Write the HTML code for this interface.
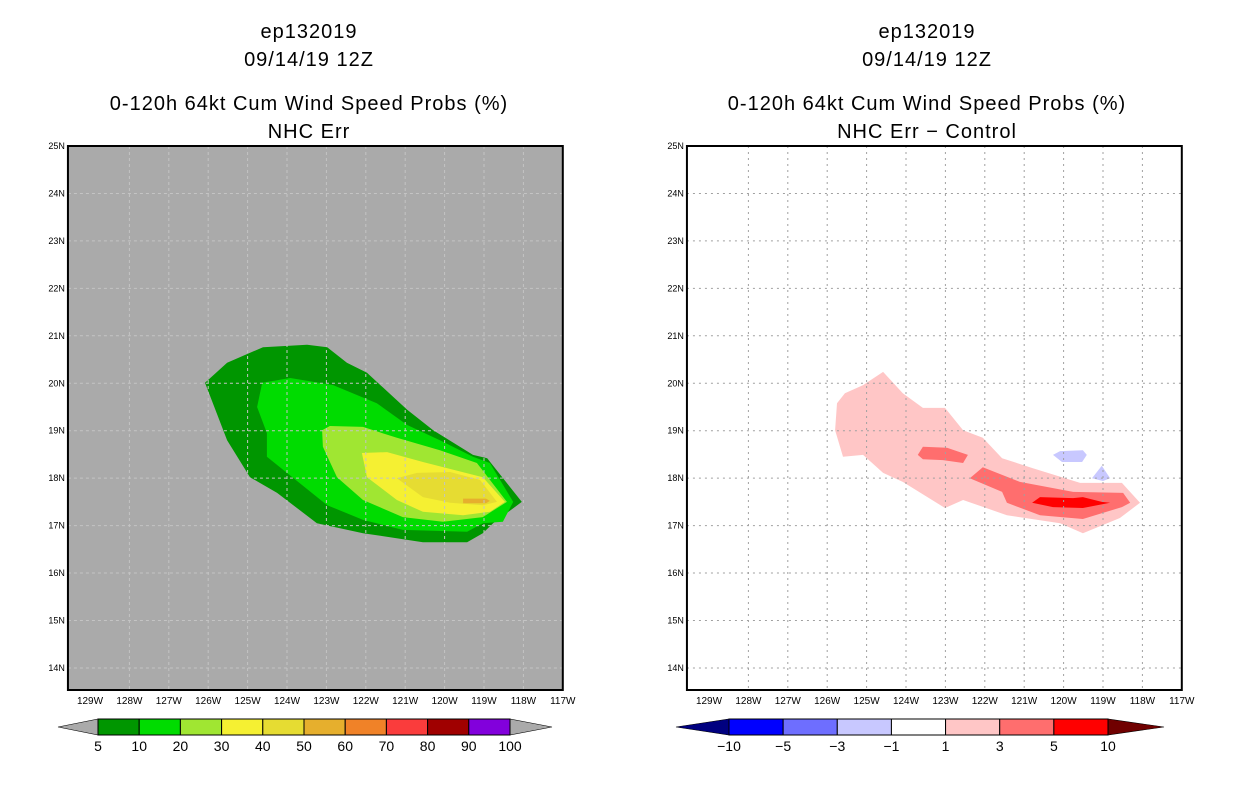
<!DOCTYPE html>
<html><head><meta charset="utf-8"><style>
body{margin:0;background:#fff;width:1236px;height:800px;overflow:hidden}
svg{display:block;font-family:"Liberation Sans",sans-serif}
</style></head><body>
<svg id="s" width="1236" height="800"></svg>
<script>
// axis data
const lonTicks=[129,128,127,126,125,124,123,122,121,120,119,118,117];
const latTicks=[25,24,23,22,21,20,19,18,17,16,15,14];
const leftLevels=["5","10","20","30","40","50","60","70","80","90","100"];
const leftColors=["#009600","#00dc00","#a0e632","#f5f032","#e6dc32","#e6af2d","#f08228","#fa3c3c","#a00000","#8200dc"];
const rightLevels=["\u221210","\u22125","\u22123","\u22121","1","3","5","10"];
const rightColors=["#0000ff","#6e6eff","#c8c8ff","#ffffff","#ffc6c6","#ff6e6e","#ff0000"];
// contour polygons (lon W, lat N)
const g5Lon=[126.08,125.52,124.61,123.49,122.98,122.48,121.97,120.95,120.29,119.28,118.92,118.04,118.77,119.03,119.43,120.55,122.07,123.24,124.25,124.94,125.52];
const g5Lat=[20.01,20.43,20.76,20.81,20.76,20.43,20.22,19.44,19.01,18.49,18.42,17.50,17.05,16.84,16.65,16.65,16.84,17.05,17.69,18.02,18.80];
const g10Lon=[124.63,123.92,122.83,121.72,120.95,120.12,119.28,118.85,118.26,118.52,119.03,119.43,121.06,122.07,122.98,124.51,124.51,124.76];
const g10Lat=[20.01,20.11,19.96,19.58,19.12,18.80,18.45,18.32,17.50,17.08,17.05,16.87,16.91,17.12,17.43,18.45,18.95,19.50];
const g20Lon=[123.11,122.91,122.07,121.21,120.12,119.18,118.42,119.03,120.04,121.06,122.07,122.73,123.09];
const g20Lat=[19.01,19.10,19.08,18.85,18.59,18.32,17.50,17.18,17.08,17.18,17.54,18.02,18.66];
const g30Lon=[122.10,121.46,120.55,119.03,118.47,118.85,119.53,120.55,121.21,121.97];
const g30Lat=[18.53,18.55,18.34,18.02,17.50,17.29,17.22,17.29,17.54,18.02];
const g40Lon=[121.21,120.70,119.86,119.10,118.67,119.03,119.86,120.55];
const g40Lat=[18.00,18.11,18.13,17.96,17.50,17.43,17.48,17.60];
const g50Lon=[119.53,118.95,118.85,118.95,119.53];
const g50Lat=[17.57,17.57,17.52,17.47,17.47];
const d1Lon=[125.80,125.75,125.55,125.09,124.58,124.08,123.57,123.01,122.55,122.05,121.56,120.78,119.58,118.52,118.06,118.57,119.51,120.09,121.44,122.55,123.01,124.08,124.58,125.09,125.60];
const d1Lat=[19.01,19.58,19.79,19.96,20.24,19.79,19.48,19.48,19.01,18.85,18.42,18.21,17.90,17.90,17.48,17.16,16.84,17.05,17.22,17.54,17.37,17.92,18.11,18.49,18.45];
const d3aLon=[123.70,123.57,122.96,122.43,122.55,123.06,123.57];
const d3aLat=[18.49,18.66,18.64,18.49,18.32,18.38,18.40];
const d3bLon=[122.38,122.05,121.11,119.76,118.49,118.31,118.52,119.51,120.60,121.44,121.56];
const d3bLat=[18.00,18.23,17.92,17.71,17.69,17.48,17.39,17.14,17.22,17.48,17.71];
const d5Lon=[120.80,120.60,119.76,119.51,119.03,118.82,119.51,120.27];
const d5Lat=[17.48,17.60,17.58,17.60,17.50,17.48,17.37,17.39];
const dnaLon=[120.27,120.09,119.51,119.41,119.53,120.04];
const dnaLat=[18.49,18.57,18.59,18.49,18.34,18.34];
const dnbLon=[119.28,119.03,118.82,119.00];
const dnbLat=[18.00,18.26,18.00,17.94];

const S=document.getElementById('s');const NS='http://www.w3.org/2000/svg';
function el(t,a,p){const e=document.createElementNS(NS,t);for(const k in a)e.setAttribute(k,a[k]);(p||S).appendChild(e);return e;}
function txt(x,y,s,size,anchor,p){const e=el('text',{x:x,y:y,'font-size':size,'text-anchor':anchor||'middle',fill:'#000'},p);e.textContent=s;return e;}
const PX=39.4,PY=47.45;
function panel(x0,name,bg){
  const X=lon=>x0+(129-lon)*PX, Y=lat=>146+(25-lat)*PY;
  const g=el('g',{});
  
  
  const r=el('rect',{x:X(129.56),y:146,width:X(117)-X(129.56),height:544,fill:bg},g);
  
  
  return {g,X,Y,xl:X(129.56),xr:X(117)};
}
function poly(P,lons,lats,fill,name){
  const pts=lons.map((l,i)=>P.X(l).toFixed(1)+','+P.Y(lats[i]).toFixed(1)).join(' ');
  const e=el('polygon',{points:pts,fill:fill},P.g);
  
  
}
function frame(P,gridColor,dash){
  lonTicks.forEach(l=>{const x=P.X(l);
    if(l<129&&l>117){el('line',{x1:x,y1:146,x2:x,y2:690,stroke:gridColor,'stroke-dasharray':dash},P.g);}
    const t=txt(x,704,l+'W',10,'middle',P.g);
    
    });
  latTicks.forEach(l=>{const y=P.Y(l);
    if(l<25){el('line',{x1:P.xl,y1:y,x2:P.xr,y2:y,stroke:gridColor,'stroke-dasharray':dash},P.g);}
    const t=txt(P.xl-3,y+3,l+'N',9,'end',P.g);
    
    });
  el('rect',{x:P.xl,y:146,width:P.xr-P.xl,height:544,fill:'none',stroke:'#000','stroke-width':2},P.g);
}
function titles(cx,l3,l4){
  [["ep132019",38],["09/14/19 12Z",66],[l3,110],[l4,138]].forEach((a,i)=>{
    const t=txt(cx,a[1],a[0],20);t.setAttribute('letter-spacing','1');
    
    });
}
function colorbar(x0,x1,tl,tr,colors,lcol,rcol,labels,name){
  const g=el('g',{});
  const w=(x1-x0)/colors.length;
  el('polygon',{points:`${tl},727 ${x0},719 ${x0},735`,fill:lcol,stroke:'#000','stroke-width':0.6},g);
  el('polygon',{points:`${tr},727 ${x1},719 ${x1},735`,fill:rcol,stroke:'#000','stroke-width':0.6},g);
  colors.forEach((c,i)=>{const r=el('rect',{x:x0+i*w,y:719,width:w,height:16,fill:c,stroke:'#000','stroke-width':1},g);
    });
  labels.forEach((s,i)=>{const t=txt(x0+i*w,751,s,14,'middle',g);
    });
}
// left panel
const L=panel(90,'left-map-panel','#aaaaaa');
poly(L,g5Lon,g5Lat,leftColors[0],'contour-5');
poly(L,g10Lon,g10Lat,leftColors[1],'contour-10');
poly(L,g20Lon,g20Lat,leftColors[2],'contour-20');
poly(L,g30Lon,g30Lat,leftColors[3],'contour-30');
poly(L,g40Lon,g40Lat,leftColors[4],'contour-40');
poly(L,g50Lon,g50Lat,leftColors[5],'contour-50');
frame(L,'#c4c4c4','3,3');
titles(309,'0-120h 64kt Cum Wind Speed Probs (%)','NHC Err');
colorbar(98,510,58,552,leftColors,'#aaaaaa','#aaaaaa',leftLevels,'left-colorbar');
// right panel
const R=panel(709,'right-map-panel','#ffffff');
poly(R,d1Lon,d1Lat,rightColors[4],'diff-1');
poly(R,d3aLon,d3aLat,rightColors[5],'diff-3a');
poly(R,d3bLon,d3bLat,rightColors[5],'diff-3b');
poly(R,d5Lon,d5Lat,rightColors[6],'diff-5');
poly(R,dnaLon,dnaLat,rightColors[2],'diff-neg-a');
poly(R,dnbLon,dnbLat,rightColors[2],'diff-neg-b');
frame(R,'#a0a0a0','2,4');
titles(927,'0-120h 64kt Cum Wind Speed Probs (%)','NHC Err \u2212 Control');
colorbar(729,1108,676,1164,rightColors,'#000080','#700000',rightLevels,'right-colorbar');
</script>
</body></html>
